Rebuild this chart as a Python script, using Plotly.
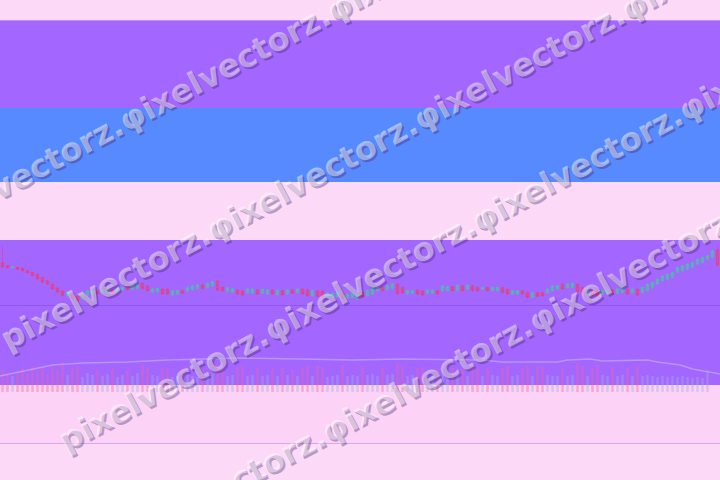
import math
import plotly.graph_objects as go

# ---------------- data ----------------
idx = list(range(144))
open_ = [112,103,97,98,95,88,83,76,67,57,47,36,27,13,18,12,3,14,18,27,22,25,30,27,30,40,32,35,50,42,23,25,33,32,15,18,
         28,27,31,35,45,38,43,56,38,26,23,30,27,22,21,30,20,18,30,16,28,18,30,22,33,30,13,27,26,8,8,10,20,5,7,3,
         22,13,18,28,38,32,35,47,37,18,20,30,27,20,21,28,28,28,40,29,42,33,42,37,32,37,28,28,37,32,18,18,28,22,8,22,
         22,22,28,32,47,37,38,47,37,22,27,26,17,20,30,20,23,33,22,32,22,28,38,48,58,63,68,83,88,93,98,108,113,122,128,150]
high = [160,105,100,100,97,90,85,80,70,60,50,40,30,25,20,15,20,30,30,30,32,35,32,37,40,42,45,50,52,45,35,37,35,35,30,30,
        30,40,45,47,47,52,57,60,40,40,35,32,30,35,35,32,35,32,32,32,30,32,32,35,35,35,32,30,30,25,22,25,22,20,22,20,
        25,32,40,40,40,45,50,50,40,30,30,32,30,32,32,30,45,42,42,47,45,47,45,40,40,40,40,40,40,35,30,30,30,25,25,25,
        25,35,45,45,50,50,52,50,40,30,30,30,30,32,32,35,40,35,35,35,40,50,55,65,75,80,85,100,105,110,115,125,130,135,150,160]
low = [95,95,95,90,85,80,70,60,50,45,30,20,10,10,0,-5,0,10,15,15,20,22,20,25,28,28,30,32,30,25,20,22,15,15,12,15,
       18,25,28,32,32,35,40,25,25,22,20,15,12,20,18,15,18,15,15,12,12,15,18,20,15,10,10,8,8,5,5,8,2,2,5,0,
       5,10,15,25,25,30,32,15,18,15,18,15,12,18,18,15,25,25,25,25,25,30,25,25,30,25,25,25,20,15,15,15,15,5,5,8,
       10,20,25,30,30,35,35,20,20,20,10,8,15,18,15,18,20,15,20,12,20,25,35,45,55,60,65,80,85,90,95,105,110,120,125,100]
close = [100,97,99,92,88,82,73,64,54,48,34,24,14,22,4,-2,17,27,27,18,30,33,23,35,38,31,43,48,35,28,33,35,18,19,28,28,
         20,37,42,45,35,50,55,30,28,37,33,18,15,33,32,18,32,30,18,29,15,30,20,33,18,13,28,11,10,22,20,23,5,17,20,17,
         8,29,37,38,28,43,48,20,22,28,28,18,15,30,30,18,42,40,28,44,28,45,29,28,38,28,38,38,23,18,28,28,18,8,22,11,
         13,33,42,43,33,48,50,25,23,28,13,11,28,30,18,33,38,18,33,15,38,47,52,62,72,77,82,97,102,107,112,122,127,133,147,105]
volume = [22,18,16,20,24,19,26,21,25,18,27,22,28,17,24,26,15,19,17,22,16,18,23,15,17,21,16,19,27,25,17,16,24,23,15,16,
          24,17,16,15,22,17,18,28,24,16,17,25,26,16,17,24,16,17,23,16,25,17,22,16,24,27,16,26,25,15,16,17,27,16,17,16,
          26,17,18,16,24,17,18,28,26,16,17,24,25,16,17,23,17,16,24,17,23,16,25,24,16,23,17,16,24,26,16,17,24,26,16,25,
          25,17,16,16,24,16,17,29,26,16,24,27,17,16,25,16,17,24,16,26,16,17,16,15,16,15,16,15,16,15,14,15,14,22]
ma_x = [-0.5,3.5,10,16,25,33,47.5,60,70,80,90,95.5,100,111,113,117.5,120,129,131,135.5,138,142,143.5]
ma_v = [16,20,27,29,30,32,34,33,32,33,32,32,30,30,32,33,31,32,30,27,23,19,18]

watermark_text = "pixelvectorz.φixelvectorz.φixelvectorz.φixelvectorz."
wm_start_x = [-105, -18, 40, 97]     # px, start of each watermark line
wm_intercept = [178, 333, 465, 596]  # px, y where the line meets x=0

W, H = 720, 480
PINK = "#fdd9f8"
PURPLE = "#a366ff"
BLUE = "#588aff"

def py(y):
    return 1 - y / H

fig = go.Figure()

inc = [c >= o for o, c in zip(open_, close)]
fig.add_trace(go.Candlestick(
    x=idx, open=open_, high=high, low=low, close=close,
    increasing=dict(line=dict(color="rgba(70,200,160,0.6)", width=1), fillcolor="rgba(70,200,160,0.6)"),
    decreasing=dict(line=dict(color="rgba(240,60,110,0.6)", width=1), fillcolor="rgba(240,60,110,0.6)"),
    whiskerwidth=0, xaxis="x", yaxis="y", showlegend=False, hoverinfo="skip"))

fig.add_trace(go.Bar(
    x=idx, y=volume,
    marker=dict(color=["rgba(160,175,220,0.4)" if u else "rgba(240,100,160,0.4)" for u in inc], line=dict(width=0)),
    xaxis="x2", yaxis="y2", showlegend=False, hoverinfo="skip"))

fig.add_trace(go.Scatter(
    x=ma_x, y=ma_v, mode="lines", line=dict(color="rgba(200,180,255,0.6)", width=1.5),
    xaxis="x2", yaxis="y2", showlegend=False, hoverinfo="skip"))

shapes = [
    dict(type="rect", xref="paper", yref="paper", x0=0, x1=1, y0=py(443), y1=py(385), fillcolor="#fcd2f7", line=dict(width=0), layer="below"),
    dict(type="rect", xref="paper", yref="paper", x0=0, x1=1, y0=py(108), y1=py(20), fillcolor=PURPLE, line=dict(width=0), layer="below"),
    dict(type="rect", xref="paper", yref="paper", x0=0, x1=1, y0=py(182), y1=py(108), fillcolor=BLUE, line=dict(width=0), layer="below"),
    dict(type="rect", xref="paper", yref="paper", x0=0, x1=1, y0=py(385), y1=py(240), fillcolor=PURPLE, line=dict(width=0), layer="below"),
    dict(type="line", xref="paper", yref="paper", x0=0, x1=1, y0=py(20.5), y1=py(20.5), line=dict(color="#c88cf2", width=1), layer="below"),
    dict(type="line", xref="paper", yref="paper", x0=0, x1=1, y0=py(305.5), y1=py(305.5), line=dict(color="rgba(120,70,210,0.45)", width=1), layer="below"),
    dict(type="line", xref="paper", yref="paper", x0=0, x1=1, y0=py(443.5), y1=py(443.5), line=dict(color="#dba6e8", width=1), layer="below"),
]

ang = 28.0
c, s = math.cos(math.radians(ang)), math.sin(math.radians(ang))
ann = []
for sx, b in zip(wm_start_x, wm_intercept):
    sy = b - math.tan(math.radians(ang)) * sx
    ax, ay = sx + 20 * s, sy + 20 * c
    for dx, dy, col in [(2, 2, "rgba(60,30,100,0.35)"), (0, 0, "rgba(255,255,255,0.45)")]:
        ann.append(dict(text=watermark_text, xref="paper", yref="paper",
                        x=(ax + dx) / W, y=py(ay + dy), xanchor="left", yanchor="bottom",
                        textangle=-ang, showarrow=False,
                        font=dict(family="DejaVu Sans", size=32, color=col, weight="bold")))

axis_off = dict(showgrid=False, zeroline=False, showticklabels=False, ticks="", showline=False)
fig.update_layout(
    width=W, height=H, margin=dict(l=0, r=0, t=0, b=0),
    paper_bgcolor=PINK, plot_bgcolor="rgba(0,0,0,0)",
    xaxis=dict(domain=[0, 1], range=[-0.5, 143.5], rangeslider=dict(visible=False), anchor="y", **axis_off),
    yaxis=dict(domain=[py(305), py(240)], range=[-15, 180], anchor="x", **axis_off),
    xaxis2=dict(domain=[0, 1], range=[-0.5, 143.5], anchor="y2", **axis_off),
    yaxis2=dict(domain=[py(392), py(305)], range=[0, 87], anchor="x2", **axis_off),
    bargap=0.5, shapes=shapes, annotations=ann, hovermode=False,
)

fig.write_html("out.html", config={"displayModeBar": False, "staticPlot": True},
               post_script="document.body.style.margin='0';document.body.style.background='" + PINK + "';")
